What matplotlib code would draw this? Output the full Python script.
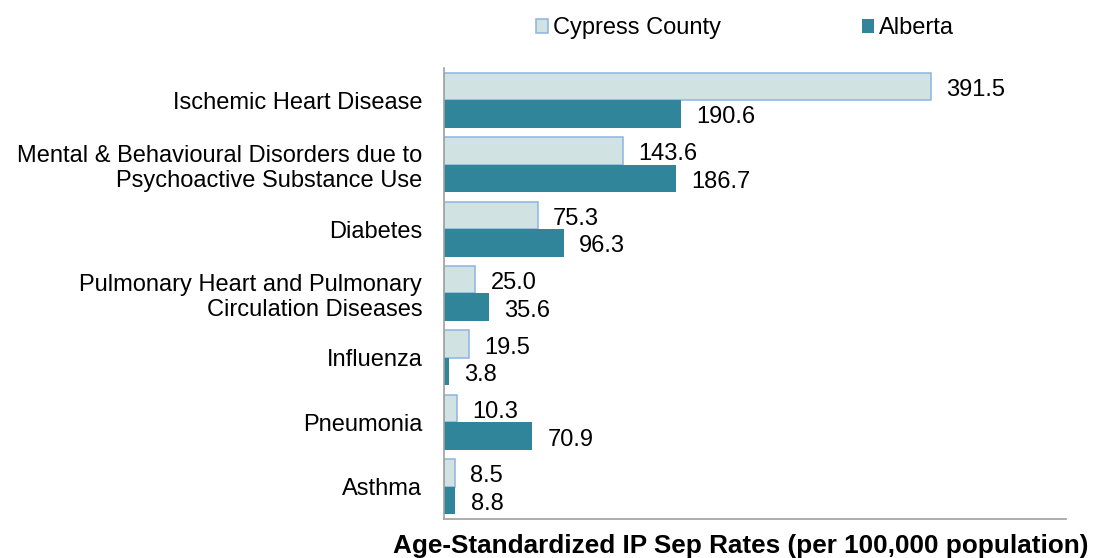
import matplotlib
matplotlib.use("Agg")
import matplotlib.pyplot as plt
import numpy as np

plt.rcParams['font.family'] = ['Liberation Sans', 'DejaVu Sans']

categories = ["Ischemic Heart Disease",
              "Mental & Behavioural Disorders due to\nPsychoactive Substance Use",
              "Diabetes",
              "Pulmonary Heart and Pulmonary\nCirculation Diseases",
              "Influenza",
              "Pneumonia",
              "Asthma"]
cypress = [391.5, 143.6, 75.3, 25.0, 19.5, 10.3, 8.5]
alberta = [190.6, 186.7, 96.3, 35.6, 3.8, 70.9, 8.8]

fig = plt.figure(figsize=(10.93, 5.58), dpi=100)
ax = fig.add_axes([0.4065, 0.0699, 0.5688, 0.8083])

y = np.arange(len(categories))
h = 0.427
b1 = ax.barh(y - h/2, cypress, height=h, color='#D0E2E2', edgecolor='#8DB4E2', linewidth=1.1, label='Cypress County')
b2 = ax.barh(y + h/2, alberta, height=h, color='#31859B', edgecolor='#31859B', linewidth=0, label='Alberta')

for v, yy in zip(cypress, y - h/2):
    ax.annotate(f"{v:.1f}", (v, yy), xytext=(11, -2.5), textcoords='offset points',
                va='center', ha='left', fontsize=17)
for v, yy in zip(alberta, y + h/2):
    ax.annotate(f"{v:.1f}", (v, yy), xytext=(11, -2.5), textcoords='offset points',
                va='center', ha='left', fontsize=17)

ax.set_yticks(y)
ax.set_yticklabels(categories, fontsize=17, ha='right', linespacing=1.15)
ax.set_ylim(len(categories) - 0.5, -0.5)
ax.set_xlim(0, 500)
ax.set_xticks([])
ax.tick_params(axis='y', length=0, pad=15.8)
for s in ['top', 'right']:
    ax.spines[s].set_visible(False)
for s in ['left', 'bottom']:
    ax.spines[s].set_color('#A0A0A0')
    ax.spines[s].set_linewidth(1.2)

ax.set_xlabel("Age-Standardized IP Sep Rates (per 100,000 population)", fontsize=18.8, fontweight='bold')
ax.xaxis.set_label_coords(0.476, -0.06)
ax.xaxis.label.set_va('center')
ax.xaxis.label.set_ha('center')

fig.legend(handles=[b1, b2], loc='center left', bbox_to_anchor=(0.4904, 0.9496), ncol=2, frameon=False,
           fontsize=17, columnspacing=6.0, handlelength=0.51, handleheight=0.55, handletextpad=0.2,
           borderpad=0, borderaxespad=0)

fig.savefig("out.png", dpi=100)
